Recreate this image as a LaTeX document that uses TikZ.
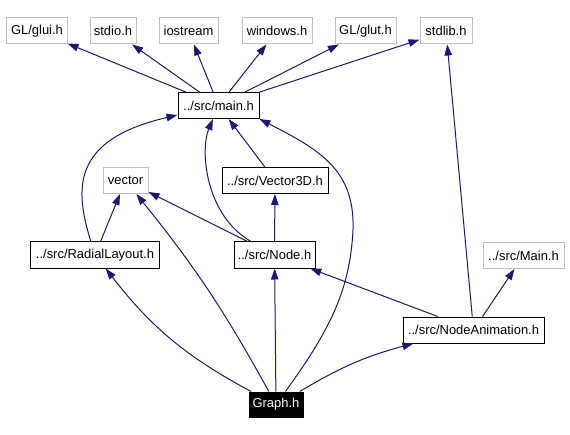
\documentclass[tikz,border=0pt]{standalone}
\usepackage{fontspec}
\setmainfont{Liberation Sans}
\usetikzlibrary{arrows.meta}
\definecolor{edgeblue}{HTML}{191970}
\definecolor{sysgray}{HTML}{BFBFBF}
\tikzset{
  hdr/.style={draw=black, line width=1bp, inner sep=0pt, minimum height=26bp,
    font=\fontsize{13}{15}\selectfont},
  syshdr/.style={hdr, draw=sysgray},
  selfhdr/.style={hdr, fill=black, text=white},
  dep/.style={draw=edgeblue, line width=1bp, -{Triangle[length=11bp,width=7.5bp]}}
}
\begin{document}
\begin{tikzpicture}
    \pgfsetxvec{\pgfpoint{1bp}{0}}
    \pgfsetyvec{\pgfpoint{0}{-1bp}}
    \useasboundingbox (0,0) rectangle (570,435);

    \foreach \n/\x/\w/\t in {gluiH/37/60/{GL/glui.h}, stdioH/113/46/{stdio.h},
        iostreamH/188.5/59/{iostream}, windowsH/277/70/{windows.h},
        glutH/365.5/61/{GL/glut.h}, stdlibH/446/52/{stdlib.h}} {
      \node[syshdr, minimum width=\w bp] (\n) at (\x,31) {\t};
    }
    \node[syshdr, minimum width=45bp] (vectorH) at (125.5,180.5) {vector};
    \node[syshdr, minimum width=81bp] (capMainH) at (523.5,255.5) {../src/Main.h};
    \foreach \n/\x/\y/\w/\t in {mainH/218.5/105.5/81/{../src/main.h},
        vecH/275/180.5/106/{../src/Vector3D.h},
        radialH/95/255/128/{../src/RadialLayout.h},
        nodeH/274.5/255/81/{../src/Node.h},
        animH/473.5/330/141/{../src/NodeAnimation.h}} {
      \node[hdr, minimum width=\w bp] (\n) at (\x,\y) {\t};
    }
    \node[selfhdr, minimum width=54bp, minimum height=25bp] (graphH) at (276,404.5) {Graph.h};

    \foreach \a/\b in {mainH/gluiH, mainH/stdioH, mainH/iostreamH, mainH/windowsH,
        mainH/glutH, mainH/stdlibH, vecH/mainH, radialH/vectorH, nodeH/vectorH,
        nodeH/vecH, graphH/nodeH, animH/nodeH, animH/stdlibH, animH/capMainH} {
      \draw[dep] (\a) -- (\b);
    }
    \draw[dep] (radialH) .. controls (75,190) and (70,140) .. (mainH);
    \draw[dep] (nodeH) .. controls (205,215) and (200,150) .. (mainH);
    \draw[dep] (graphH) .. controls (330,330) and (350,290) .. (353,230)
        .. controls (355,170) and (320,150) .. (mainH.south east);
    \draw[dep] (graphH) to[bend right=5] (vectorH);
    \draw[dep] (graphH) to[bend left=12] (radialH);
    \draw[dep] (graphH) to[bend left=8] (animH);
  \end{tikzpicture}
\end{document}
